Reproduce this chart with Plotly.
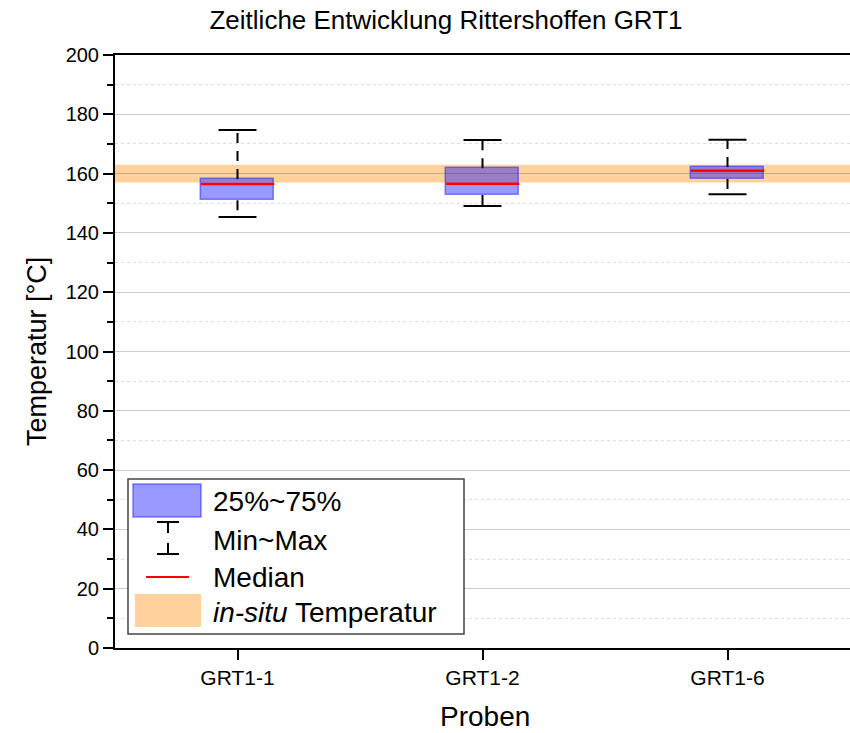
import plotly.graph_objects as go

# Proben und Temperaturstatistik (°C)
categories = ["GRT1-1", "GRT1-2", "GRT1-6"]
t_min = [145.4, 149.1, 153.0]
t_q1 = [151.0, 152.8, 158.2]
t_median = [156.5, 156.6, 161.0]
t_q3 = [158.2, 161.8, 162.2]
t_max = [174.7, 171.3, 171.4]

# in-situ Temperatur mit Bandbreite
insitu_low = 157
insitu_high = 163

legend_labels = ["25%~75%", "Min~Max", "Median", "<i>in-situ</i> Temperatur"]

W, H = 850, 733
PX_L, PX_R, PX_T, PX_B = 115, 850, 55, 648   # Plotbereich in Pixeln
FONT = "Liberation Sans, Arial, sans-serif"
BOX_FILL = "rgba(0,0,255,0.4)"
BOX_LINE = "rgba(40,40,255,0.55)"
BAND_FILL = "rgba(255,165,60,0.5)"

pos = list(range(len(categories)))
box_w = 0.3
cap_w = 0.155


def px_x(px):
    return (px - PX_L) / (PX_R - PX_L)


def px_y(py):
    return (PX_B - py) / (PX_B - PX_T)


def segments(x0s, x1s, y0s, y1s):
    xs, ys = [], []
    for a, b, c, d in zip(x0s, x1s, y0s, y1s):
        xs += [a, b, None]
        ys += [c, d, None]
    return xs, ys


fig = go.Figure()

# Boxen 25%~75%
fig.add_trace(go.Bar(
    x=pos,
    y=[b - a for a, b in zip(t_q1, t_q3)],
    base=t_q1,
    width=box_w,
    marker=dict(color=BOX_FILL, line=dict(color=BOX_LINE, width=1.5)),
    showlegend=False,
    hoverinfo="skip",
))

# Whisker (gestrichelt)
wx, wy = segments(pos + pos, pos + pos, t_q3 + t_q1, t_max + t_min)
fig.add_trace(go.Scatter(
    x=wx, y=wy, mode="lines",
    line=dict(color="black", width=2, dash="10px,8px"),
    showlegend=False, hoverinfo="skip",
))

# Kappen Min/Max
lo = [p - cap_w / 2 for p in pos]
hi = [p + cap_w / 2 for p in pos]
cx, cy = segments(lo + lo, hi + hi, t_max + t_min, t_max + t_min)
fig.add_trace(go.Scatter(
    x=cx, y=cy, mode="lines",
    line=dict(color="black", width=2),
    showlegend=False, hoverinfo="skip",
))

# Median
mx, my = segments([p - box_w / 2 for p in pos], [p + box_w / 2 for p in pos],
                  t_median, t_median)
fig.add_trace(go.Scatter(
    x=mx, y=my, mode="lines",
    line=dict(color="red", width=2.5),
    showlegend=False, hoverinfo="skip",
))

shapes = [
    dict(type="rect", xref="paper", yref="y", x0=0, x1=1,
         y0=insitu_low, y1=insitu_high, fillcolor=BAND_FILL,
         line=dict(width=0), layer="below"),
]

# Legende von Hand
shapes += [
    dict(type="rect", xref="paper", yref="paper",
         x0=px_x(128), x1=px_x(464), y0=px_y(634), y1=px_y(479),
         fillcolor="white", line=dict(color="#444", width=1.5), layer="above"),
    dict(type="rect", xref="paper", yref="paper",
         x0=px_x(133), x1=px_x(201), y0=px_y(517), y1=px_y(484),
         fillcolor=BOX_FILL, line=dict(color=BOX_LINE, width=1.5), layer="above"),
    dict(type="line", xref="paper", yref="paper",
         x0=px_x(157), x1=px_x(179), y0=px_y(522), y1=px_y(522),
         line=dict(color="black", width=2), layer="above"),
    dict(type="line", xref="paper", yref="paper",
         x0=px_x(168), x1=px_x(168), y0=px_y(522), y1=px_y(533),
         line=dict(color="black", width=2), layer="above"),
    dict(type="line", xref="paper", yref="paper",
         x0=px_x(168), x1=px_x(168), y0=px_y(543), y1=px_y(554),
         line=dict(color="black", width=2), layer="above"),
    dict(type="line", xref="paper", yref="paper",
         x0=px_x(157), x1=px_x(179), y0=px_y(554), y1=px_y(554),
         line=dict(color="black", width=2), layer="above"),
    dict(type="line", xref="paper", yref="paper",
         x0=px_x(146), x1=px_x(189), y0=px_y(577), y1=px_y(577),
         line=dict(color="red", width=2), layer="above"),
    dict(type="rect", xref="paper", yref="paper",
         x0=px_x(135), x1=px_x(201), y0=px_y(627), y1=px_y(594),
         fillcolor=BAND_FILL, line=dict(width=0), layer="above"),
]

row_y = [501, 540, 577, 612]
annotations = [
    dict(text=t, xref="paper", yref="paper", x=px_x(211), y=px_y(yy),
         xanchor="left", yanchor="middle", showarrow=False,
         font=dict(size=28, color="black", family=FONT))
    for t, yy in zip(legend_labels, row_y)
]

# Achsentitel
annotations += [
    dict(text="Temperatur [°C]", xref="paper", yref="paper",
         x=px_x(37), y=px_y(352), textangle=-90, showarrow=False,
         xanchor="center", yanchor="middle",
         font=dict(size=27, color="black", family=FONT)),
    dict(text="Proben", xref="paper", yref="paper",
         x=px_x(485), y=px_y(716), showarrow=False,
         xanchor="center", yanchor="middle",
         font=dict(size=28, color="black", family=FONT)),
]

fig.update_layout(
    width=W, height=H,
    margin=dict(l=PX_L, r=W - PX_R, t=PX_T, b=H - PX_B),
    paper_bgcolor="white",
    plot_bgcolor="white",
    font=dict(family=FONT, color="black"),
    title=dict(text="Zeitliche Entwicklung Rittershoffen GRT1",
               x=446 / W, xref="container", xanchor="center",
               y=1 - 20 / H, yref="container", yanchor="middle",
               font=dict(size=26, color="black", family=FONT)),
    shapes=shapes,
    annotations=annotations,
    showlegend=False,
    bargap=0,
)

fig.update_xaxes(
    range=[-0.5, 2.5],
    tickvals=pos, ticktext=categories,
    ticks="outside", ticklen=10, tickwidth=2, tickcolor="black",
    showline=True, linewidth=2, linecolor="black", mirror=True,
    showgrid=False, zeroline=False,
    tickfont=dict(size=21, color="black"),
)

fig.update_yaxes(
    range=[0, 200], tick0=0, dtick=20,
    ticks="outside", ticklen=10, tickwidth=2, tickcolor="black",
    showline=True, linewidth=2, linecolor="black",
    showgrid=True, gridcolor="rgba(0,0,0,0.2)", gridwidth=1,
    zeroline=False,
    tickfont=dict(size=20, color="black"),
    minor=dict(dtick=10, ticks="outside", ticklen=6, tickwidth=2,
               tickcolor="black", showgrid=True,
               gridcolor="rgba(0,0,0,0.13)", griddash="3px,3px"),
)

# Body-Rand der Seite entfernen, damit die Figur bei (0,0) beginnt
fig.write_html("out.html", config={"displayModeBar": False},
               post_script="document.body.style.margin='0';")
